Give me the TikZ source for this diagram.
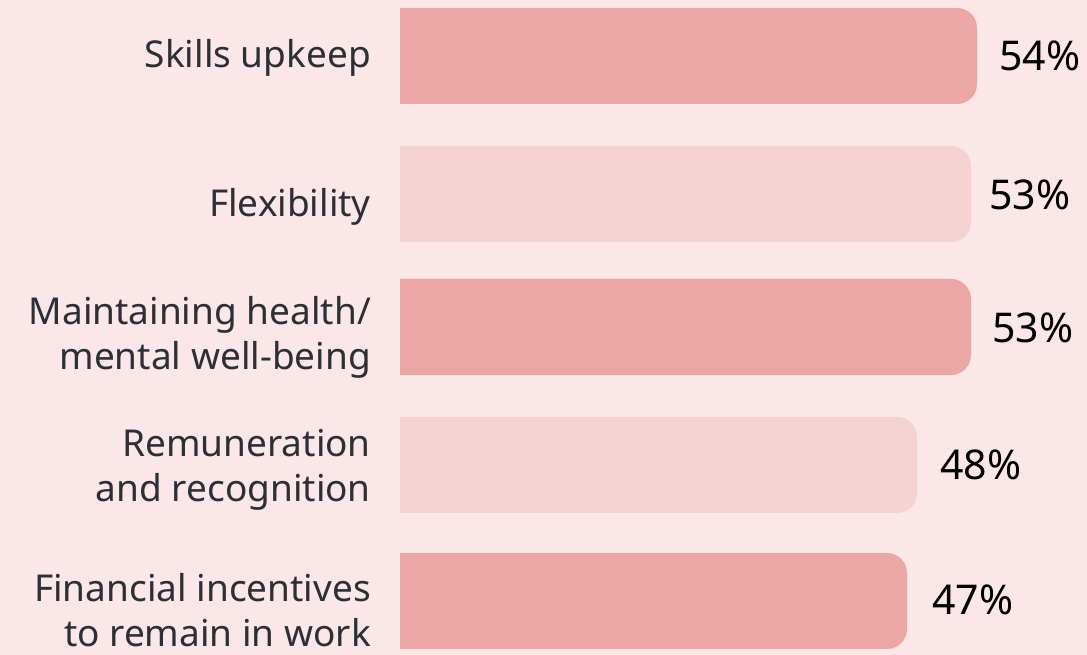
\documentclass[tikz,border=0pt]{standalone}
\usepackage{fontspec}
\setmainfont{Noto Sans}
\definecolor{bgc}{HTML}{FBE7E8}
\definecolor{bardark}{HTML}{EBA7A4}
\definecolor{barlight}{HTML}{F5D2D2}
\definecolor{labc}{HTML}{2B2F36}
\newcommand\mybar[5]{% name, top, bottom, right, color
  \fill[#5] (400,#2) -- ({#4-20},#2) arc[start angle=90,end angle=0,radius=20] -- (#4,{#3+20}) arc[start angle=0,end angle=-90,radius=20] -- (400,#3) -- cycle;
  \coordinate (#1) at (400,{(#2+#3)/2});
}
\begin{document}
\begin{tikzpicture}[x=1pt,y=1pt,
  lab/.style={anchor=east,align=right,inner sep=0pt,text=labc,font=\fontsize{37}{45}\selectfont},
  pct/.style={anchor=center,inner sep=0pt,text=black,font=\fontsize{41}{48}\selectfont}]
\useasboundingbox (0,0) rectangle (1087,655);
\fill[bgc] (0,0) rectangle (1087,655);
\mybar{b1}{647}{551}{977}{bardark}
\mybar{b2}{509}{413}{971}{barlight}
\mybar{b3}{376}{280}{971}{bardark}
\mybar{b4}{238}{142}{917}{barlight}
\mybar{b5}{102}{6}{907}{bardark}
\node[lab] (l1) at ([xshift=-29pt,yshift=-2pt]b1) {Skills upkeep};
\node[lab] (l2) at ([xshift=-29pt,yshift=-13pt]b2) {Flexibility};
\node[lab] (l3) at ([xshift=-29pt,yshift=-10pt]b3) {Maintaining health/\\mental well-being};
\node[lab] (l4) at ([xshift=-29pt,yshift=-5pt]b4) {Remuneration\\and recognition};
\node[lab] (l5) at ([xshift=-29pt,yshift=-9pt]b5) {Financial incentives\\to remain in work};
\node[pct] (p1) at (1040,599) {54\%};
\node[pct] (p2) at (1030,460) {53\%};
\node[pct] (p3) at (1033,327) {53\%};
\node[pct] (p4) at (981,190) {48\%};
\node[pct] (p5) at (973,55) {47\%};
\end{tikzpicture}
\end{document}
